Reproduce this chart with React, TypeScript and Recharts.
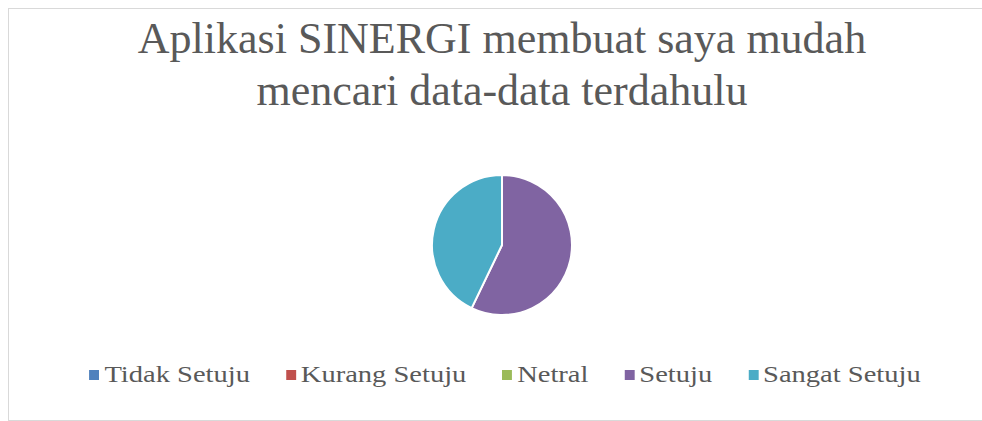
import React from 'react';
import { PieChart, Pie, Cell, Legend } from 'recharts';

// categories and answer counts
const categories = ['Tidak Setuju', 'Kurang Setuju', 'Netral', 'Setuju', 'Sangat Setuju'];
const counts = [0, 0, 0, 4, 3];
const colors = ['#4F81BD', '#C0504D', '#9BBB59', '#8064A2', '#4BACC6'];
const titleLines = ['Aplikasi SINERGI membuat saya mudah', 'mencari data-data terdahulu'];

const data = categories.map((name, i) => ({ name, value: counts[i] }));

const FONT = '"Liberation Serif", "Times New Roman", serif';

// legend text in the original is stretched sideways, so scale it
const LegendBox = () => (
  <div
    style={{
      display: 'flex',
      justifyContent: 'center',
      alignItems: 'center',
      fontFamily: FONT,
      fontSize: 23,
      lineHeight: '30px',
      color: '#595959',
      paddingLeft: 5,
      transform: 'scaleX(1.24)',
      transformOrigin: '50% 50%',
    }}
  >
    {categories.map((c, i) => (
      <div key={c} style={{ display: 'flex', alignItems: 'center', marginRight: i < categories.length - 1 ? 29 : 0 }}>
        <span style={{ width: 8, height: 10, background: colors[i], marginRight: 4, display: 'inline-block' }} />
        <span>{c}</span>
      </div>
    ))}
  </div>
);

const App: React.FC = () => {
  return (
    <div
      style={{
        position: 'absolute',
        left: 8,
        top: 8,
        width: 974,
        height: 411,
        overflow: 'hidden',
        borderLeft: '1px solid #d9d9d9',
        borderTop: '1px solid #d9d9d9',
        borderBottom: '1px solid #d9d9d9',
        background: '#fff',
      }}
    >
      <div style={{ position: 'relative', width: 986, height: 411 }}>
        <div
          style={{
            position: 'absolute',
            top: 4,
            left: 0,
            width: 986,
            textAlign: 'center',
            fontFamily: FONT,
            fontSize: 44,
            lineHeight: '52px',
            color: '#595959',
          }}
        >
          {titleLines.map((t) => (
            <div key={t}>{t}</div>
          ))}
        </div>
        <PieChart width={986} height={411} style={{ position: 'absolute', top: 0, left: 0 }}>
          <Pie
            data={data}
            dataKey="value"
            nameKey="name"
            cx={488}
            cy={231}
            outerRadius={70}
            startAngle={90}
            endAngle={-270}
            stroke="#ffffff"
            strokeWidth={2}
            isAnimationActive={false}
          >
            {data.map((d, i) => (
              <Cell key={d.name} fill={colors[i]} />
            ))}
          </Pie>
          <Legend content={<LegendBox />} wrapperStyle={{ top: 351, left: 0, width: 986 }} />
        </PieChart>
      </div>
    </div>
  );
};

export default App;
